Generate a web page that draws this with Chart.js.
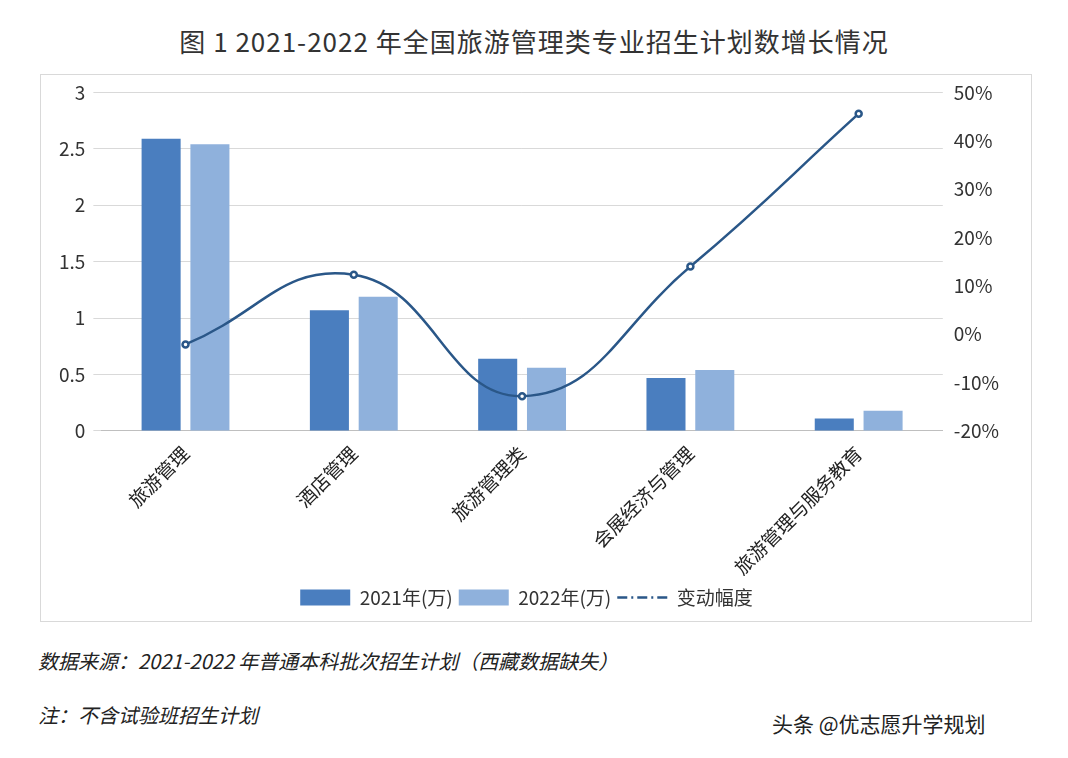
<!DOCTYPE html>
<html><head><meta charset="utf-8">
<script src="https://cdn.jsdelivr.net/npm/chart.js@4"></script>
<style>
body{margin:0;background:#fff;font-family:"Noto Sans CJK SC",sans-serif;width:1068px;height:758px;position:relative;overflow:hidden}
#title{position:absolute;top:22px;left:0;width:1068px;text-align:center;font-size:26px;color:#333;letter-spacing:1px}
#box{position:absolute;left:40px;top:74px;width:990px;height:546px;border:1px solid #d9d9d9}
#c{position:absolute;left:0;top:-2px}
.note{position:absolute;left:38px;font-size:20px;font-style:italic;color:#222}
#brand{position:absolute;left:772px;top:708px;font-size:21px;color:#222}
</style></head><body>
<div id="title">图 1 2021-2022 年全国旅游管理类专业招生计划数增长情况</div>
<div id="box"><canvas id="c" width="990" height="546"></canvas></div>
<div class="note" style="top:646px">数据来源：2021-2022 年普通本科批次招生计划（西藏数据缺失）</div>
<div class="note" style="top:700px">注：不含试验班招生计划</div>
<div id="brand">头条 @优志愿升学规划</div>
<script>
const categories=["旅游管理","酒店管理","旅游管理类","会展经济与管理","旅游管理与服务教育"];
const y2021=[2.59,1.07,0.64,0.47,0.11];
const y2022=[2.54,1.19,0.56,0.54,0.18];
const change=[-2.1,12.3,-12.8,14.0,45.6];
const leftTicks=[0,0.5,1,1.5,2,2.5,3];
const rightTicks=[-20,-10,0,10,20,30,40,50];
const font={family:"Noto Sans CJK SC",size:19};
new Chart(document.getElementById('c'),{
 data:{labels:categories,datasets:[
  {type:'bar',label:'2021年(万)',data:y2021,backgroundColor:'#4a7ebf',yAxisID:'y',barPercentage:0.8,categoryPercentage:0.58,order:2},
  {type:'bar',label:'2022年(万)',data:y2022,backgroundColor:'#8fb1dc',yAxisID:'y',barPercentage:0.8,categoryPercentage:0.58,order:2},
  {type:'line',label:'变动幅度',data:change,borderColor:'#2a5788',borderWidth:2.5,tension:0.45,pointRadius:3,pointBackgroundColor:'#fff',pointBorderColor:'#2a5788',yAxisID:'y1',order:1}
 ]},
 options:{responsive:false,animation:false,
  layout:{padding:{left:10,right:29,top:6,bottom:2}},
  plugins:{legend:{position:'bottom',labels:{font:font,color:'#333',boxWidth:50,boxHeight:16,padding:6,
    sort:(a,b)=>a.datasetIndex-b.datasetIndex,
    generateLabels:ch=>{const l=Chart.defaults.plugins.legend.labels.generateLabels(ch);l.forEach(i=>{if(i.datasetIndex===2){i.fillStyle='#2a5788';i.lineDash=[10,4,2,4];i.lineWidth=2.5;i.pointStyle='line';}else{i.lineWidth=0;i.pointStyle='rect';}});return l;},
    usePointStyle:true,pointStyleWidth:50}},tooltip:{enabled:false}},
  scales:{
   x:{grid:{display:false},border:{color:'#bfbfbf'},ticks:{font:font,color:'#222',maxRotation:45,minRotation:45}},
   y:{min:0,max:3,afterBuildTicks:a=>{a.ticks=leftTicks.map(v=>({value:v}))},grid:{color:'#d9d9d9'},border:{display:false},ticks:{font:font,color:'#333',padding:8,callback:v=>String(v)}},
   y1:{position:'right',min:-20,max:50,afterBuildTicks:a=>{a.ticks=rightTicks.map(v=>({value:v}))},grid:{display:false},border:{display:false},ticks:{font:font,color:'#333',callback:v=>v+'%'}}
  }}
});
</script></body></html>
